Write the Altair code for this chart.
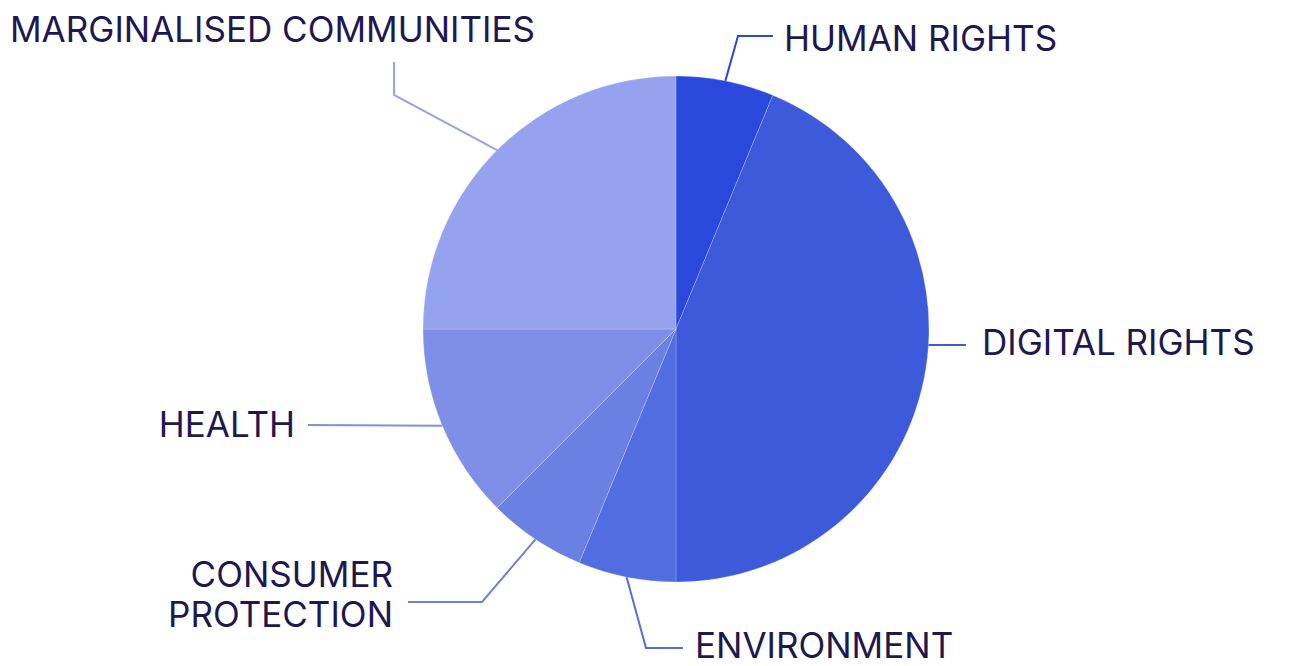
import altair as alt
import numpy as np
import pandas as pd

# ---- data ----
categories = ["HUMAN RIGHTS", "DIGITAL RIGHTS", "ENVIRONMENT",
              "CONSUMER PROTECTION", "HEALTH", "MARGINALISED COMMUNITIES"]
values = [1, 7, 1, 1, 2, 4]
label_text = ["HUMAN RIGHTS", "DIGITAL RIGHTS", "ENVIRONMENT",
              "CONSUMER\nPROTECTION", "HEALTH", "MARGINALISED COMMUNITIES"]
colors = ["#2a48dc", "#3d5adb", "#526de0", "#6b80e3", "#7f8fe7", "#95a2ed"]

# ---- layout (pixel offsets from pie centre, y up) ----
W, H = 1285, 658
CX, CY = 668, 321
R = 253
anchor_override = {1: 93.6}
bends = [
    [(62, 293), (97, 293)],
    [(290, -16)],
    [(-30, -319), (7, -319)],
    [(-194, -273), (-268, -273)],
    [(-368, -96)],
    [(-282, 234), (-282, 267)],
]
text_pos = [
    (108, 278, "left"),
    (306, -26, "left"),
    (19, -329, "left"),
    (-283, -258, "right"),
    (-381, -108, "right"),
    (-666, 287, "left"),
]

total = sum(values)
cum = np.cumsum(values)
mid_angle = [(c - v / 2) / total * 360 for c, v in zip(cum, values)]

xs = alt.Scale(domain=[-CX, W - CX], nice=False, zero=False)
ys = alt.Scale(domain=[-(H - CY), CY], nice=False, zero=False)
cs = alt.Scale(domain=categories, range=colors)

pie_df = pd.DataFrame({"cat": categories, "value": values,
                       "idx": list(range(len(values))), "cx": 0, "cy": 0})

rows = []
for i, cat in enumerate(categories):
    a = np.deg2rad(anchor_override.get(i, mid_angle[i]))
    pts = [(R * np.sin(a), R * np.cos(a))] + bends[i]
    for k, (px, py) in enumerate(pts):
        rows.append({"cat": cat, "k": k, "x": px, "y": py})
line_df = pd.DataFrame(rows)

text_df = pd.DataFrame({
    "cat": categories, "label": label_text,
    "x": [p[0] for p in text_pos], "y": [p[1] for p in text_pos],
    "align": [p[2] for p in text_pos],
})

pie = alt.Chart(pie_df).mark_arc(radius=R, stroke="#ffffff", strokeWidth=0.6,
                                 strokeOpacity=0.35).encode(
    theta=alt.Theta("value:Q", stack=True),
    order=alt.Order("idx:Q"),
    color=alt.Color("cat:N", scale=cs, legend=None),
    x=alt.X("cx:Q", scale=xs, axis=None),
    y=alt.Y("cy:Q", scale=ys, axis=None),
)

lines = alt.Chart(line_df).mark_line(strokeWidth=2).encode(
    x=alt.X("x:Q", scale=xs, axis=None),
    y=alt.Y("y:Q", scale=ys, axis=None),
    color=alt.Color("cat:N", scale=cs, legend=None),
    detail="cat:N",
    order="k:Q",
)

text_common = dict(font="Inter", fontSize=35, color="#1e1850",
                   baseline="alphabetic", lineBreak="\n", lineHeight=40)
text_left = alt.Chart(text_df).transform_filter(
    alt.datum.align == "left").mark_text(align="left", **text_common).encode(
    x=alt.X("x:Q", scale=xs, axis=None),
    y=alt.Y("y:Q", scale=ys, axis=None),
    text="label:N",
)
text_right = alt.Chart(text_df).transform_filter(
    alt.datum.align == "right").mark_text(align="right", **text_common).encode(
    x=alt.X("x:Q", scale=xs, axis=None),
    y=alt.Y("y:Q", scale=ys, axis=None),
    text="label:N",
)

chart = alt.layer(pie, lines, text_left, text_right).properties(
    width=W, height=H, padding=0,
    autosize=alt.AutoSizeParams(type="none"),
    background="#ffffff",
).configure_view(stroke=None)

chart.save("out.html", embed_options={"renderer": "svg", "actions": False})
